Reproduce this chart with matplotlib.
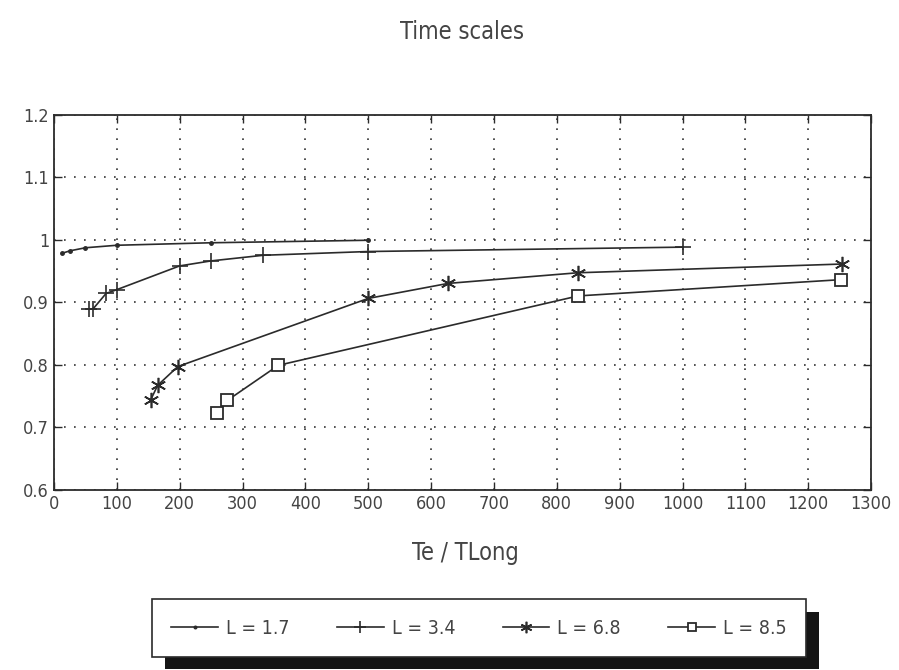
import matplotlib
matplotlib.use('Agg')
import matplotlib.pyplot as plt
import matplotlib.patheffects as pe

# data
x_17 = [12.5, 25, 50, 100, 250, 500]
y_17 = [0.978, 0.982, 0.987, 0.991, 0.995, 0.999]

x_34 = [55, 62, 83, 100, 200, 250, 333, 500, 1000]
y_34 = [0.889, 0.889, 0.914, 0.920, 0.958, 0.966, 0.975, 0.981, 0.988]

x_68 = [154, 165, 197, 500, 627, 833, 1254]
y_68 = [0.744, 0.767, 0.797, 0.906, 0.930, 0.947, 0.961]

x_85 = [260, 276, 357, 834, 1252]
y_85 = [0.722, 0.743, 0.799, 0.910, 0.936]

labels = ['L = 1.7', 'L = 3.4', 'L = 6.8', 'L = 8.5']
xticks = list(range(0, 1301, 100))
yticks = [0.6, 0.7, 0.8, 0.9, 1.0, 1.1, 1.2]
ytick_labels = ['0.6', '0.7', '0.8', '0.9', '1', '1.1', '1.2']

ink = '#2b2b2b'
font = dict(family='DejaVu Sans', stretch='condensed', color='#444444')

fig = plt.figure(figsize=(8.99, 6.70), dpi=100)
ax = fig.add_axes([0.060, 0.269, 0.909, 0.560])

ax.plot(x_17, y_17, color=ink, lw=1.2, marker='.', ms=5, label=labels[0])
ax.plot(x_34, y_34, color=ink, lw=1.2, marker='+', ms=11, mew=1.2, label=labels[1])
ax.plot(x_68, y_68, color=ink, lw=1.2, marker=(6, 2, 0), ms=11, mew=1.2, label=labels[2])
ax.plot(x_85, y_85, color=ink, lw=1.2, marker='s', ms=8, mfc='white', mew=1.3, label=labels[3])

ax.set_xlim(0, 1300)
ax.set_ylim(0.6, 1.2)
ax.set_xticks(xticks)
ax.set_xticklabels([str(t) for t in xticks], fontsize=13, **font)
ax.set_yticks(yticks)
ax.set_yticklabels(ytick_labels, fontsize=13, **font)
ax.tick_params(direction='in', length=6, width=1, top=True, right=True, colors=ink, labelcolor='#444444')
ax.grid(True, color='#333333', linestyle=(0, (1, 5)), lw=1.2)

for s in ax.spines.values():
    s.set_linewidth(1.3)
    s.set_color(ink)

fig.text(0.514, 0.952, 'Time scales', ha='center', va='center', fontsize=17, **font)
fig.text(0.518, 0.175, 'Te / TLong', ha='center', va='center', fontsize=17, **font)

leg = fig.legend(loc='center', ncol=4, mode='expand', borderaxespad=0,
                 bbox_to_anchor=(152 / 899, 1 - 658 / 670, 654 / 899, 60 / 670),
                 fancybox=False, framealpha=1, edgecolor=ink,
                 handlelength=2.4, handletextpad=0.4, borderpad=1.0, markerscale=0.75,
                 prop=dict(family='DejaVu Sans', stretch='condensed', size=14))
for t in leg.get_texts():
    t.set_color('#444444')
frame = leg.get_frame()
frame.set_linewidth(1.2)
frame.set_path_effects([pe.SimplePatchShadow(offset=(9, -9), shadow_rgbFace='#151515', alpha=1.0), pe.Normal()])

fig.savefig('out.png', dpi=100, facecolor='white')
